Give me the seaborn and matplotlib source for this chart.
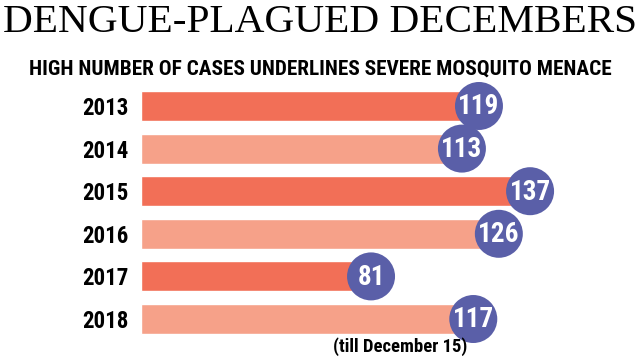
import matplotlib
matplotlib.use("Agg")
import matplotlib.pyplot as plt
import seaborn as sns
import pandas as pd

years = ["2013", "2014", "2015", "2016", "2017", "2018"]
cases = [119, 113, 137, 126, 81, 117]
title = "DENGUE-PLAGUED DECEMBERS"
subtitle = "HIGH NUMBER OF CASES UNDERLINES SEVERE MOSQUITO MENACE"
note = "(till December 15)"

dark = "#F26F57"
light = "#F6A189"
circle = "#5A5FA8"
bar_colors = [dark, light, dark, light, dark, light]

sns.set_theme(style="white")
cond = ["Roboto Condensed", "Liberation Sans Narrow", "Roboto", "DejaVu Sans"]

df = pd.DataFrame({"year": years, "cases": cases})

fig = plt.figure(figsize=(6.4, 3.61), dpi=100)
ax = fig.add_axes([141 / 640, 16 / 361, 497 / 640, 265 / 361])
sns.barplot(data=df, x="cases", y="year", hue="year", palette=bar_colors,
            order=years, legend=False, width=0.7, ax=ax, saturation=1)
ax.set_xlim(0, 175)
ax.set_ylim(5.61, -0.61)
ax.scatter(df["cases"], range(len(years)), s=1194, color=circle, zorder=5,
           edgecolor="none")
for i, v in enumerate(cases):
    ax.text(v, i + 0.02, str(v), ha="center", va="center", color="white",
            fontsize=19.5, fontweight="bold", family=cond, stretch="condensed",
            zorder=6)
ax.set_xlabel("")
ax.set_ylabel("")
ax.set_xticks([])
ax.tick_params(axis="y", length=0, pad=9)
for lab in ax.get_yticklabels():
    lab.set_fontsize(16.5)
    lab.set_fontweight("bold")
    lab.set_family(cond)
    lab.set_fontstretch("condensed")
    lab.set_color("black")
for s in ax.spines.values():
    s.set_visible(False)

fig.text(0.5, 1 - 22 / 361, title, ha="center", va="center", fontsize=29.7,
         family=["Liberation Serif", "DejaVu Serif"],
         color="black")
fig.text(0.5, 1 - 69 / 361, subtitle, ha="center", va="center", fontsize=15.3,
         fontweight="bold", family=cond, stretch="condensed", color="black")
fig.text(400 / 640, 1 - 347 / 361, note, ha="center", va="center", fontsize=13.4,
         fontweight="bold", family=cond, stretch="condensed", color="black")

fig.savefig("out.png", dpi=100)
